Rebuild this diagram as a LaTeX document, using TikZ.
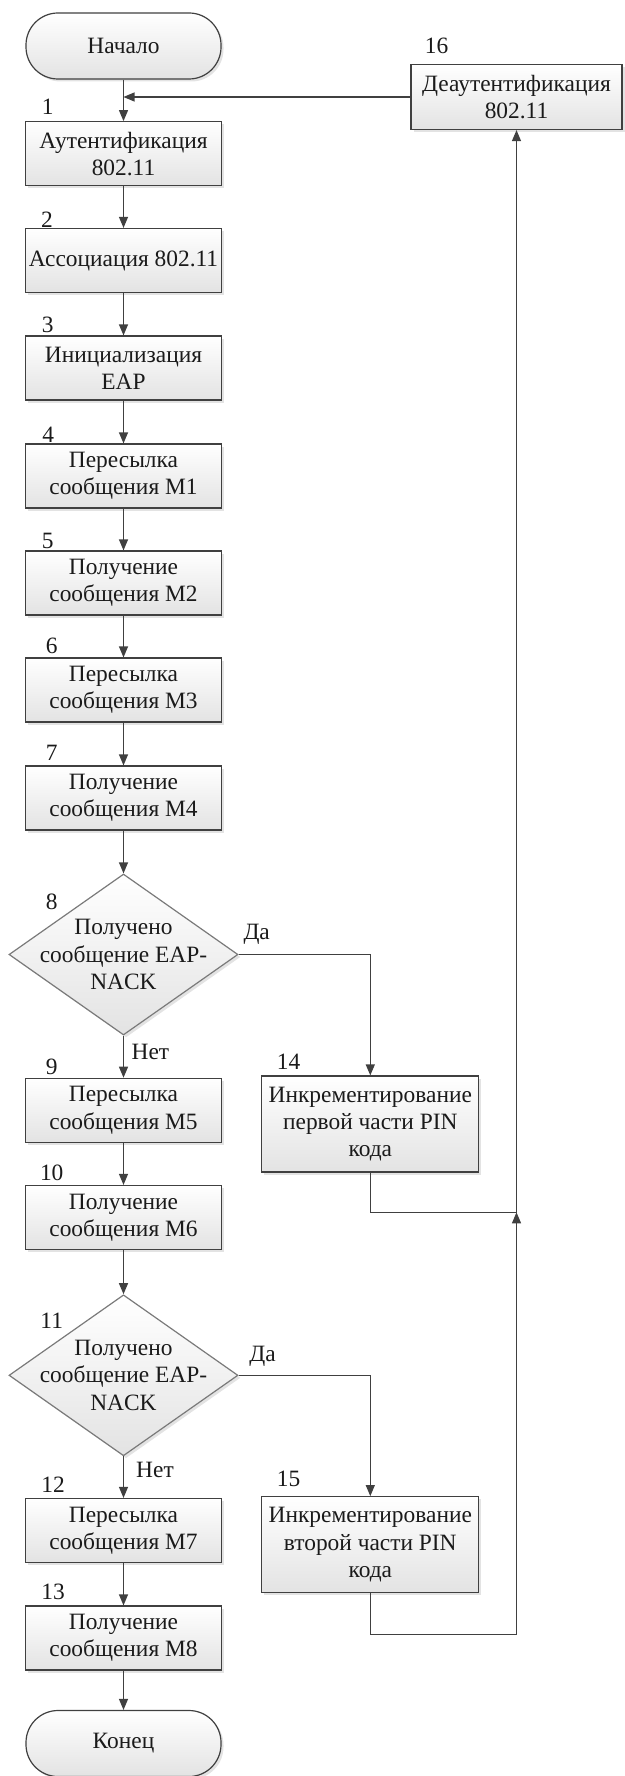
\documentclass[tikz,border=0pt]{standalone}
\usepackage{fontspec}
\setmainfont{Liberation Serif}
\usetikzlibrary{shapes.geometric,arrows.meta,shadows}

\definecolor{lineclr}{HTML}{404040}
\definecolor{decclr}{HTML}{7A7A7A}
\definecolor{textclr}{HTML}{1A1A1A}

\begin{document}
\begin{tikzpicture}[x=1pt,y=-1pt,
  font=\fontsize{23.4}{27.3}\selectfont, text=textclr,
  base/.style={draw=lineclr, line width=1.2pt, top color=white, bottom color=black!11,
    drop shadow={shadow xshift=2.5pt,shadow yshift=-2.5pt,opacity=0.22}},
  proc/.style={base, rectangle, minimum width=196pt, minimum height=64pt, align=center, inner sep=1pt},
  wideproc/.style={proc, minimum width=217pt, minimum height=96pt},
  term/.style={base, rectangle, rounded corners=32pt, minimum width=195pt, minimum height=66pt},
  dec/.style={base, draw=decclr, diamond, minimum width=229pt, minimum height=161pt, inner sep=0pt},
  num/.style={anchor=center, inner sep=0pt},
  flow/.style={draw=lineclr, line width=1.2pt, -{Triangle[length=11pt,width=9pt]}},
  wire/.style={draw=lineclr, line width=1.2pt}
]
\useasboundingbox (0,0) rectangle (624,1776);

% main column
\node[term] (start) at (123.5,46) {Начало};
\node[proc] (b1) at (123.5,153.7) {Аутентификация\\802.11};
\node[proc] (b2) at (123.5,260.5) {Ассоциация 802.11};
\node[proc] (b3) at (123.5,368) {Инициализация\\EAP};
\node[proc] (b4) at (123.5,476) {Пересылка\\сообщения M1};
\node[proc] (b5) at (123.5,583) {Получение\\сообщения M2};
\node[proc] (b6) at (123.5,690) {Пересылка\\сообщения M3};
\node[proc] (b7) at (123.5,798) {Получение\\сообщения M4};
\node[dec, label={[align=center,inner sep=0pt]center:Получено\\сообщение EAP-\\NACK}] (d8) at (123.5,954.5) {};
\node[proc] (b9) at (123.5,1110.3) {Пересылка\\сообщения M5};
\node[proc] (b10) at (123.5,1217.5) {Получение\\сообщения M6};
\node[dec, label={[align=center,inner sep=0pt]center:Получено\\сообщение EAP-\\NACK}] (d11) at (123.5,1375.3) {};
\node[proc] (b12) at (123.5,1530.5) {Пересылка\\сообщения M7};
\node[proc] (b13) at (123.5,1638) {Получение\\сообщения M8};
\node[term] (end) at (123.5,1743.5) {Конец};

% side branches
\node[wideproc] (b14) at (370.3,1124) {Инкрементирование\\первой части PIN\\кода};
\node[wideproc] (b15) at (370.3,1544.7) {Инкрементирование\\второй части PIN\\кода};
\node[proc, minimum width=211pt, minimum height=65pt] (b16) at (516.5,97) {Деаутентификация\\802.11};

% step numbers
\node[num] (n1) at (47.8,106.7) {1};
\node[num] (n2) at (47,219.3) {2};
\node[num] (n3) at (47.7,325) {3};
\node[num] (n4) at (48.3,435) {4};
\node[num] (n5) at (47.7,540.7) {5};
\node[num] (n6) at (51.7,645.7) {6};
\node[num] (n7) at (51.7,753.3) {7};
\node[num] (n8) at (51.7,901.7) {8};
\node[num] (n9) at (51.7,1067) {9};
\node[num] (n10) at (51.7,1173.3) {10};
\node[num] (n11) at (51.7,1321) {11};
\node[num] (n12) at (53,1485) {12};
\node[num] (n13) at (53,1592) {13};
\node[num] (n14) at (288.5,1062) {14};
\node[num] (n15) at (288.5,1479) {15};
\node[num] (n16) at (436.5,45.7) {16};

% branch labels
\node[num] (yes8) at (256.7,934) {Да};
\node[num] (no8) at (150.4,1051.7) {Нет};
\node[num] (yes11) at (262.6,1356) {Да};
\node[num] (no11) at (155,1470) {Нет};

% junction points
\coordinate (j0) at (123.5,97);
\coordinate (m1) at (516.5,1212.3);
\coordinate (m2) at (516.5,1634.3);

% connectors
\draw[flow] (start) -- (b1);
\draw[flow] (b16.west) -- (j0);
\draw[flow] (b1) -- (b2);
\draw[flow] (b2) -- (b3);
\draw[flow] (b3) -- (b4);
\draw[flow] (b4) -- (b5);
\draw[flow] (b5) -- (b6);
\draw[flow] (b6) -- (b7);
\draw[flow] (b7) -- (d8.north);
\draw[flow] (d8.south) -- (b9);
\draw[flow] (d8.east) -| (b14.north);
\draw[flow] (b9) -- (b10);
\draw[flow] (b10) -- (d11.north);
\draw[flow] (d11.south) -- (b12);
\draw[flow] (d11.east) -| (b15.north);
\draw[flow] (b12) -- (b13);
\draw[flow] (b13) -- (end);
\draw[wire] (b14.south) |- (m1);
\draw[wire] (b15.south) |- (m2);
\draw[flow] (m2) -- (m1);
\draw[flow] (m1) -- (b16.south);
\end{tikzpicture}
\end{document}
